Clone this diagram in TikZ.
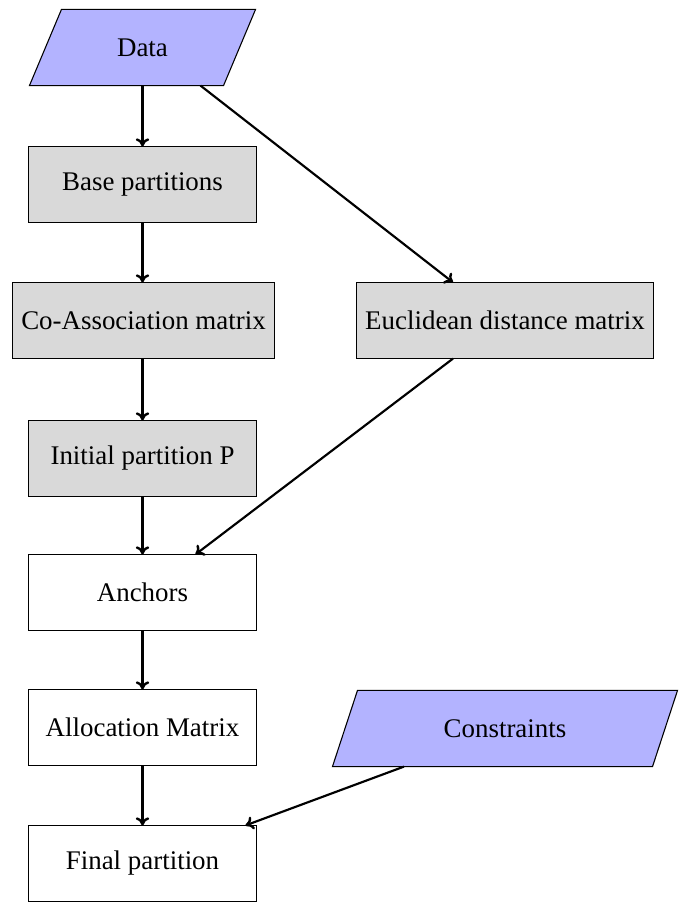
\documentclass[tikz,border=0pt]{standalone}
\usepackage{fontspec}
\setmainfont{Liberation Serif}
\usetikzlibrary{calc,arrows.meta}
\definecolor{paracol}{RGB}{179,179,255}
\definecolor{boxgray}{RGB}{217,217,217}
\begin{document}
\begin{tikzpicture}[x=0.3715pt, y=-0.3715pt,
  proc/.style={draw, line width=0.4pt, minimum width=85pt, minimum height=27.9pt, inner sep=3.33pt},
  grayproc/.style={proc, fill=boxgray},
  paratext/.style={minimum height=27.9pt, inner sep=0pt},
  conn/.style={-{To[length=3pt,width=5pt,line width=0.9pt]}, line width=0.8pt}]
\useasboundingbox (0,0) rectangle (688,905);
% parallelogram nodes (text holders)
\node[paratext, minimum width=71.7pt] (data) at (142.5,47.5) {};
\filldraw[fill=paracol, line width=0.4pt]
  ($(data.south west)+(-16,0)$) -- ($(data.south east)+(-16,0)$) --
  ($(data.north east)+(16,0)$) -- ($(data.north west)+(16,0)$) -- cycle;
\node at (data) {Data};
\node[paratext, minimum width=118.5pt] (cons) at (505,728.5) {};
\filldraw[fill=paracol, line width=0.4pt]
  ($(cons.south west)+(-12.5,0)$) -- ($(cons.south east)+(-12.5,0)$) --
  ($(cons.north east)+(12.5,0)$) -- ($(cons.north west)+(12.5,0)$) -- cycle;
\node at (cons) {Constraints};
% process boxes
\node[grayproc] (base) at (142.5,184.5) {Base partitions};
\node[grayproc] (coas) at (143.5,320.5) {Co-Association matrix};
\node[grayproc] (eucl) at (505,320.5) {Euclidean distance matrix};
\node[grayproc] (init) at (142.5,458.5) {Initial partition P};
\node[proc] (anch) at (142.5,592.5) {Anchors};
\node[proc] (allo) at (142.5,727.5) {Allocation Matrix};
\node[proc] (fina) at (142.5,863.5) {Final partition};
% connectors
\draw[conn] (data.south) -- (base.north);
\draw[conn] ($(data.south)+(58,0)$) -- ($(eucl.north)+(-52,0)$);
\draw[conn] (base.south) -- (base.south |- coas.north);
\draw[conn] (init.north |- coas.south) -- (init.north);
\draw[conn] (init) -- (anch);
\draw[conn] ($(eucl.south)+(-52,0)$) -- ($(anch.north)+(53,0)$);
\draw[conn] (anch) -- (allo);
\draw[conn] (allo) -- (fina);
\draw[conn] ($(cons.south)+(-101,0)$) -- ($(fina.north)+(103,0)$);
\end{tikzpicture}
\end{document}
